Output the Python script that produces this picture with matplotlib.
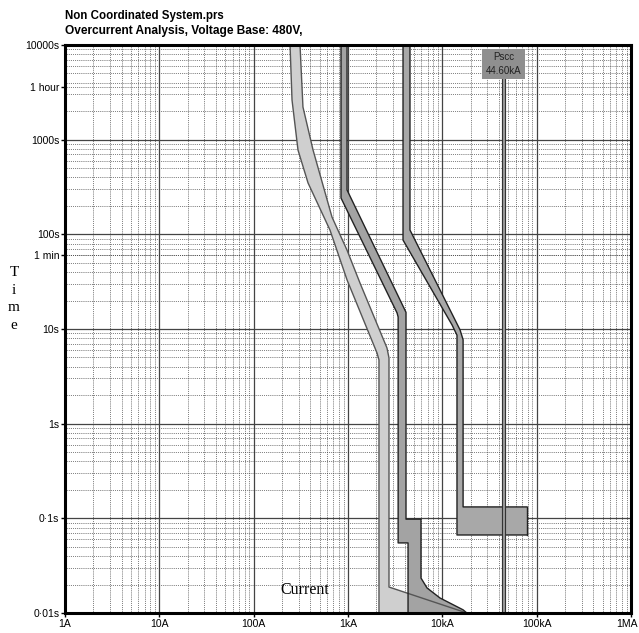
import matplotlib
matplotlib.use("Agg")
import matplotlib.pyplot as plt
import matplotlib.transforms as mtransforms

# TCC curves (current in A, time in s)
fuse_min_i = [243, 255, 295, 377, 644, 977, 2030, 2130, 2130]
fuse_min_t = [10000, 2625, 778, 349, 111, 33, 5.58, 4.71, 0.01]
fuse_max_i = [310, 333, 426, 677, 977, 1340, 2590, 2720, 2720, 18200]
fuse_max_t = [10000, 2213, 778, 152, 68, 30.6, 6.3, 4.94, 0.0188, 0.01]

cb1_min_i = [843, 843, 3310, 3400, 3400, 4330, 4330]
cb1_min_t = [10000, 242, 14.8, 13.4, 0.055, 0.055, 0.01]
cb1_max_i = [977, 977, 4120, 4120, 5940, 5940, 6880, 9450, 16600, 18200]
cb1_max_t = [10000, 294, 15, 0.098, 0.098, 0.0234, 0.0184, 0.0144, 0.0108, 0.01]

cb2_min_i = [3830, 3830, 12700, 14300, 14300, 79000]
cb2_min_t = [10000, 87, 11, 8.6, 0.0667, 0.0667]
cb2_max_i = [4540, 4540, 15400, 16600, 16600, 79000]
cb2_max_t = [10000, 111, 9.8, 7.7, 0.132, 0.132]

pscc_a = 44600
pscc_label = "Pscc\n44.60kA"

x_ticks = [1, 10, 100, 1e3, 1e4, 1e5, 1e6]
x_labels = ["1A", "10A", "100A", "1kA", "10kA", "100kA", "1MA"]
y_ticks = [0.01, 0.1, 1, 10, 60, 100, 1000, 3600, 10000]
y_labels = ["0\u00b701s", "0\u00b71s", "1s", "10s", "1 min", "100s", "1000s", "1 hour", "10000s"]

fig = plt.figure(figsize=(6.39, 6.33), dpi=100)
ax = fig.add_axes([65 / 639, 20 / 633, 566 / 639, 568 / 633])
ax.set_xscale("log")
ax.set_yscale("log")
ax.set_xlim(1, 1e6)
ax.set_ylim(0.01, 10000)

# grid: solid decades, dotted 2..9
dot = (0, (1, 1.5))
for d in range(0, 6):
    ax.axvline(10.0 ** d, color="#444444", lw=0.9, zorder=1)
    for k in range(2, 10):
        ax.axvline(k * 10.0 ** d, color="#333333", lw=0.55, ls=dot, zorder=1)
for d in range(-2, 4):
    ax.axhline(10.0 ** d, color="#444444", lw=0.9, zorder=1)
    for k in range(2, 10):
        ax.axhline(k * 10.0 ** d, color="#333333", lw=0.55, ls=dot, zorder=1)
for v in [60, 3600]:
    ax.axhline(v, color="#333333", lw=0.55, ls=dot, zorder=1)

def band(mi, mt, xi, xt, fc, ec):
    px = list(mi) + list(xi[::-1])
    py = list(mt) + list(xt[::-1])
    ax.fill(px, py, facecolor=fc, edgecolor="none", zorder=2)
    ax.plot(mi, mt, color=ec, lw=1.0, zorder=3)
    ax.plot(xi, xt, color=ec, lw=1.0, zorder=3)

band(fuse_min_i, fuse_min_t, fuse_max_i, fuse_max_t, "#cfcfcf", "#555555")
band(cb1_min_i, cb1_min_t, cb1_max_i, cb1_max_t, "#a3a3a3", "#222222")
band(cb2_min_i, cb2_min_t, cb2_max_i, cb2_max_t, "#a8a8a8", "#222222")
ax.plot([cb2_min_i[-1], cb2_max_i[-1]], [cb2_min_t[-1], cb2_max_t[-1]], color="#222222", lw=1.0, zorder=3)

# short-circuit current marker
ax.vlines(pscc_a, 0.01, 6000, color="#333333", lw=3.0, zorder=3)
ax.vlines(pscc_a, 0.01, 6000, color="#aaaaaa", lw=1.2, zorder=3)
ax.text(pscc_a, 6300, pscc_label, ha="center", va="center", fontsize=7,
        color="#222222", family="Liberation Sans", linespacing=1.5, zorder=5,
        bbox=dict(boxstyle="square,pad=0.35", facecolor="#8f8f8f", edgecolor="none"))

ax.set_xticks(x_ticks)
ax.set_xticklabels(x_labels)
ax.set_yticks(y_ticks)
ax.set_yticklabels(y_labels)
ax.minorticks_off()
ax.tick_params(length=3, width=1, direction="out", labelsize=7.5, pad=1)
for lab in ax.get_xticklabels() + ax.get_yticklabels():
    lab.set_family("Liberation Sans")
last = ax.get_xticklabels()[-1]
last.set_transform(last.get_transform() + mtransforms.ScaledTranslation(-4 / 100, 0, fig.dpi_scale_trans))
for s in ax.spines.values():
    s.set_linewidth(2.2)
    s.set_zorder(6)

fig.text(65 / 639, 1 - 16 / 633, "Non Coordinated System.prs", fontsize=8.3,
         fontweight="bold", family="Liberation Sans", va="center")
fig.text(65 / 639, 1 - 31 / 633, "Overcurrent Analysis, Voltage Base: 480V,", fontsize=8.6,
         fontweight="bold", family="Liberation Sans", va="center")
fig.text(14 / 639, 1 - 299 / 633, "T\ni\nm\ne", fontsize=11, family="Liberation Serif",
         ha="center", va="center", linespacing=1.45)
ax.text(350, 0.0175, "Current", fontsize=11.5, family="Liberation Serif",
        ha="center", va="center", zorder=4)

fig.savefig("out.png", dpi=100)
